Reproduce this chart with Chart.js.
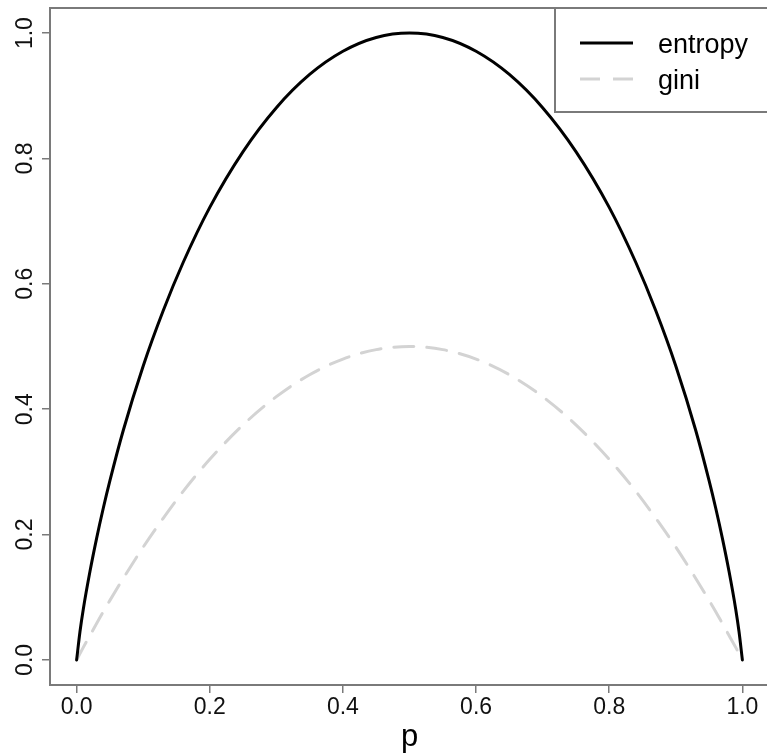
<!DOCTYPE html>
<html>
<head>
<meta charset="utf-8">
<script src="https://cdn.jsdelivr.net/npm/chart.js@4/dist/chart.umd.min.js"></script>
<style>
  html, body { margin: 0; padding: 0; background: #fff; overflow: hidden; }
  canvas { display: block; }
</style>
</head>
<body>
<canvas id="myChart" width="769" height="756"></canvas>
<script>
// values
const pValues = [0, 0.005, 0.01, 0.02, 0.03, 0.04, 0.05, 0.07, 0.1, 0.13, 0.16, 0.2, 0.25, 0.3, 0.35, 0.4, 0.45, 0.5,
                 0.55, 0.6, 0.65, 0.7, 0.75, 0.8, 0.84, 0.87, 0.9, 0.93, 0.95, 0.96, 0.97, 0.98, 0.99, 0.995, 1];
const entropyValues = [0, 0.045, 0.081, 0.141, 0.194, 0.242, 0.286, 0.366, 0.469, 0.557, 0.634, 0.722, 0.811, 0.881, 0.934, 0.971, 0.993, 1.0,
                       0.993, 0.971, 0.934, 0.881, 0.811, 0.722, 0.634, 0.557, 0.469, 0.366, 0.286, 0.242, 0.194, 0.141, 0.081, 0.045, 0];
const giniValues = [0, 0.010, 0.020, 0.039, 0.058, 0.077, 0.095, 0.130, 0.180, 0.226, 0.269, 0.320, 0.375, 0.420, 0.455, 0.480, 0.495, 0.5,
                    0.495, 0.480, 0.455, 0.420, 0.375, 0.320, 0.269, 0.226, 0.180, 0.130, 0.095, 0.077, 0.058, 0.039, 0.020, 0.010, 0];
const xTicks = [0, 0.2, 0.4, 0.6, 0.8, 1.0];
const yTicks = [0, 0.2, 0.4, 0.6, 0.8, 1.0];
const seriesNames = ['entropy', 'gini'];
const xTitle = 'p';

const FONT = '"Liberation Sans", Arial, sans-serif';
const AXIS_GREY = '#7a7a7a';

function toPoints(ys) {
    return pValues.map((p, i) => ({ x: p, y: ys[i] }));
}

// box round the plot + legend box in the top right corner
const boxPlugin = {
    id: 'rbox',
    afterDraw(chart) {
        const ctx = chart.ctx;
        const a = chart.chartArea;
        ctx.save();
        ctx.strokeStyle = AXIS_GREY;
        ctx.lineWidth = 2;
        ctx.strokeRect(a.left, a.top, a.right - a.left, a.bottom - a.top);

        // legend
        const lx = 555, ly = a.top, lw = a.right - lx, lh = 104;
        ctx.fillStyle = '#fff';
        ctx.fillRect(lx, ly, lw, lh);
        ctx.strokeRect(lx, ly, lw, lh);

        const rows = [35, 71];
        chart.data.datasets.forEach((ds, i) => {
            const y = ly + rows[i];
            ctx.beginPath();
            ctx.strokeStyle = ds.borderColor;
            ctx.lineWidth = ds.borderWidth;
            ctx.setLineDash(ds.borderDash || []);
            ctx.moveTo(580, y);
            ctx.lineTo(633, y);
            ctx.stroke();
            ctx.setLineDash([]);
            ctx.fillStyle = '#000';
            ctx.font = '27px ' + FONT;
            ctx.textBaseline = 'middle';
            ctx.textAlign = 'left';
            ctx.fillText(ds.label, 658, y + 3);
        });
        ctx.restore();
    }
};

const config = {
    type: 'line',
    data: {
        datasets: [
            {
                label: seriesNames[0],
                data: toPoints(entropyValues),
                borderColor: '#000',
                borderWidth: 3,
                pointRadius: 0,
                cubicInterpolationMode: 'monotone',
                borderCapStyle: 'round',
                fill: false
            },
            {
                label: seriesNames[1],
                data: toPoints(giniValues),
                borderColor: '#d3d3d3',
                borderWidth: 3,
                borderDash: [20, 13],
                pointRadius: 0,
                cubicInterpolationMode: 'monotone',
                borderCapStyle: 'round',
                fill: false
            }
        ]
    },
    options: {
        responsive: false,
        animation: false,
        devicePixelRatio: 1,
        layout: { padding: { top: 8, right: 0, bottom: 0, left: 0 } },
        plugins: {
            legend: { display: false },
            tooltip: { enabled: false }
        },
        scales: {
            x: {
                type: 'linear',
                min: -0.04,
                max: 1.04,
                afterBuildTicks: scale => { scale.ticks = xTicks.map(v => ({ value: v })); },
                afterFit: scale => {
                    scale.height = 71;
                    scale.paddingLeft = 0;
                    scale.paddingRight = 0;
                },
                border: { display: false },
                grid: { drawOnChartArea: false, drawTicks: true, tickLength: 8, color: AXIS_GREY, lineWidth: 1.5 },
                ticks: {
                    color: '#111',
                    font: { family: FONT, size: 23 },
                    padding: 1,
                    maxRotation: 0,
                    callback: v => v.toFixed(1)
                },
                title: {
                    display: true,
                    text: xTitle,
                    color: '#000',
                    font: { family: FONT, size: 31 },
                    padding: { top: 0, bottom: 0 }
                }
            },
            y: {
                type: 'linear',
                min: -0.04,
                max: 1.04,
                afterBuildTicks: scale => { scale.ticks = yTicks.map(v => ({ value: v })); },
                afterFit: scale => {
                    scale.width = 50;
                    scale.paddingTop = 0;
                    scale.paddingBottom = 0;
                },
                border: { display: false },
                grid: { drawOnChartArea: false, drawTicks: true, tickLength: 8, color: AXIS_GREY, lineWidth: 1.5 },
                ticks: {
                    color: '#111',
                    font: { family: FONT, size: 23 },
                    padding: 0,
                    minRotation: 90,
                    maxRotation: 90,
                    crossAlign: 'center',
                    callback: v => v.toFixed(1)
                }
            }
        }
    },
    plugins: [boxPlugin]
};

const chart = new Chart(document.getElementById('myChart').getContext('2d'), config);
</script>
</body>
</html>
